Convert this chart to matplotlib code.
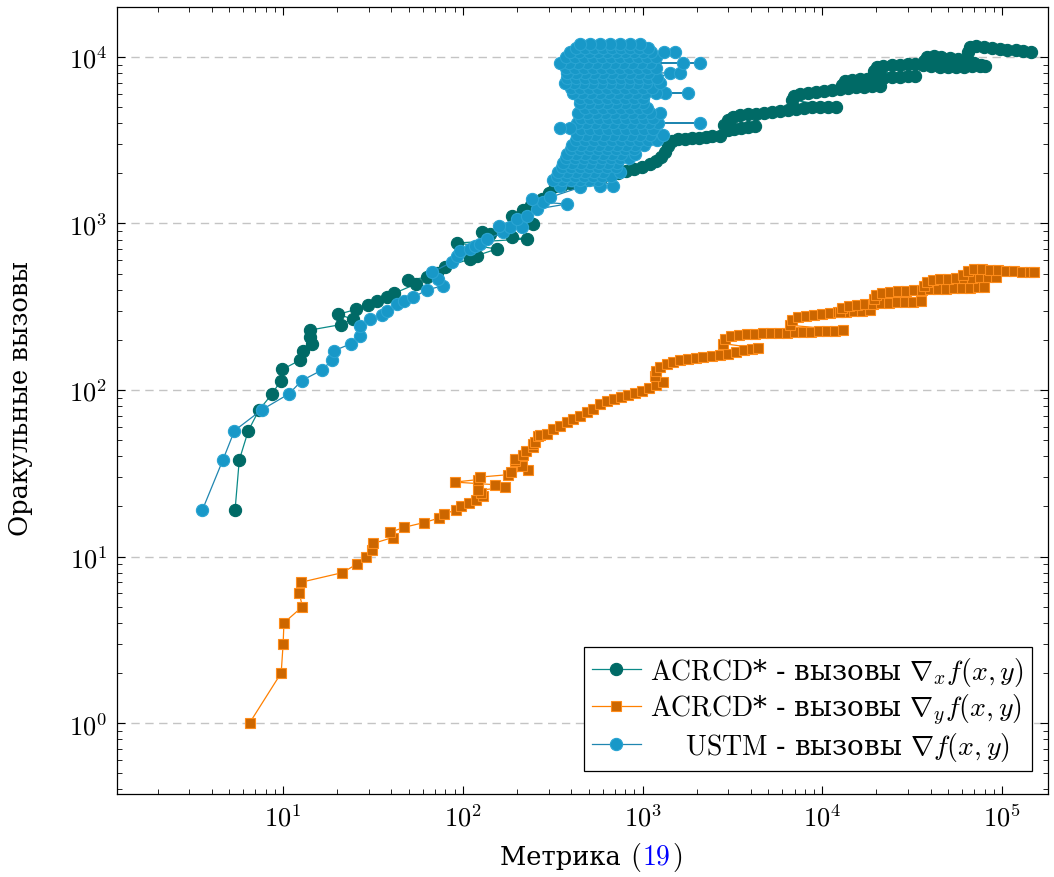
import matplotlib
matplotlib.use('Agg')
import matplotlib.pyplot as plt
from matplotlib.offsetbox import TextArea, HPacker, AnnotationBbox

plt.rcParams['font.family'] = ['cmr10', 'DejaVu Serif']
plt.rcParams['mathtext.fontset'] = 'cm'
plt.rcParams['axes.unicode_minus'] = False
plt.rcParams['axes.formatter.use_mathtext'] = True
CYR = 'DejaVu Serif'

# ACRCD* - calls of grad_x  (metric, oracle calls)
acx_x = [5.4, 5.7, 6.4, 7.35, 8.7, 9.7, 9.9, 12.4, 12.9, 14.5, 14.1, 14.1, 20.9, 24.4, 20.3, 25.5, 29.8, 33.4, 37.6, 41.6,
         54.7, 49.8, 63, 72, 79.6, 109.6, 119.4, 154.5, 93.2, 226, 187, 141.6, 127, 247, 187, 215, 240, 275, 300,
         326, 356, 395, 437, 484, 537, 594, 659, 730, 809, 896, 993, 1099, 1190, 1266,
         1333, 1384, 1459, 1575, 1721, 1880, 2050, 2240, 2440, 2694, 2990, 3240, 3540, 3860, 4217,
         2840, 2990, 3200, 3480, 3860, 4280, 4730, 5230, 5807, 6450, 7130, 7900, 8730, 9691, 10750, 11900,
         6800, 6960, 7502, 8300, 9200, 10200, 11300, 12520, 13870, 15380, 17030, 18900, 20890,
         12850, 13350, 14700, 16170, 17800, 19850, 21800, 24400, 26990, 29800, 32900,
         19350, 20100, 21800, 24400, 26990, 29800, 32900, 36200, 40000, 45030, 49900, 55200, 61200, 67800, 75140, 80110,
         36700, 38300, 41600, 46000, 51180, 56600, 62900, 69500, 76500,
         64600, 66110, 71300, 79000, 88000, 97070, 107000, 118800, 130900, 144400]
acx_y = [19, 38, 57, 76, 95, 114, 133, 151, 171, 189, 208, 229, 247, 266, 285, 305, 323, 341, 361, 381,
         433, 458, 475, 505, 546, 612, 641, 703, 764, 807, 826, 865, 893, 993, 1114, 1200, 1300, 1400, 1520,
         1680, 1702, 1750, 1775, 1824, 1850, 1901, 1953, 2010, 2066, 2125, 2186, 2275, 2373, 2506,
         2690, 2920, 3130, 3220, 3220, 3270, 3270, 3310, 3350, 3350, 3650, 3700, 3750, 3800, 3850,
         3910, 4190, 4365, 4490, 4550, 4550, 4610, 4680, 4740, 4810, 4870, 4940, 5010, 5010, 5010, 5010,
         5520, 5830, 6000, 6080, 6160, 6250, 6340, 6430, 6510, 6600, 6600, 6700, 6700,
         6790, 7180, 7280, 7380, 7380, 7480, 7480, 7580, 7580, 7690, 7690,
         8240, 8710, 8830, 8950, 8950, 9080, 9080, 8950, 8830, 8710, 8710, 8710, 8710, 8830, 8830, 8830,
         9460, 10000, 10140, 10000, 9860, 9726, 9460, 9200, 8950,
         10710, 11480, 11640, 11480, 11320, 11170, 11020, 11020, 10870, 10710]

# ACRCD* - calls of grad_y
acy_x = [6.5, 9.75, 10.0, 10.1, 12.8, 12.3, 12.5, 21.3, 25.7, 28.8, 31.4, 31.8, 40.6, 39.5, 47.3, 60.8, 73.4, 78.3,
         91, 98, 108, 119, 130, 126, 122, 172, 151, 90, 122, 124, 178, 185, 231, 213, 195, 195, 216, 225,
         246, 246, 252, 262, 270, 294, 318, 347, 380, 410, 449, 491, 530, 580, 634, 693, 758, 830, 907, 993,
         1086, 1186, 1297,
         1172, 1190, 1250, 1360, 1480, 1614, 1780, 1980, 2180, 2440, 2694, 2970, 3300, 3660, 4060, 4400,
         2800, 2872, 3120, 3440, 3800, 4217, 4670, 5170, 5730, 6350, 7037, 7800, 8630, 9570, 10600, 11740, 13000,
         6600, 6800, 7300, 8100, 9000, 9950, 11010, 12200, 13500, 14950, 16600, 18380,
         12520, 12850, 14050, 15600, 17240, 19100, 21160, 23440, 25960, 28770, 31880, 35300,
         19350, 19800, 21500, 23740, 26300, 29100, 32300, 35800, 39620, 43900, 48600, 53900, 59700, 66110, 73200, 79000,
         36700, 38000, 41000, 45030, 49900, 55200, 61200, 67800, 75140, 83200, 92200,
         60500, 64600, 69600, 77000, 85400, 94600, 104800, 116000, 128600, 142500, 150000]
acy_y = [1, 2, 3, 4, 5, 6, 7, 8, 9, 10, 11, 12, 13, 14, 15, 16, 17, 18,
         19, 20, 21, 22, 23, 24, 25, 26, 27, 28, 29, 30, 31, 32, 33, 35, 37.5, 38.5, 41, 43,
         45.5, 47.4, 49, 53, 54, 54.4, 58, 61, 64, 67, 70, 74, 77, 82, 86, 88, 91, 93, 96, 99,
         103, 107, 112,
         121, 130, 137, 143, 147, 151, 154, 156, 158, 160, 162, 165, 169, 173, 176, 178,
         190, 202, 211, 213, 217, 217, 220, 220, 220, 220, 223, 223, 223, 226, 226, 226, 229,
         245, 263, 274, 278, 282, 286, 290, 294, 294, 298, 298, 302,
         294, 311, 319, 324, 329, 329, 334, 334, 338, 338, 338, 343,
         352, 372, 382, 388, 393, 393, 398, 398, 404, 404, 404, 410, 410, 410, 416, 416,
         422, 445, 458, 464, 464, 471, 471, 471, 477, 477, 477,
         491, 519, 533, 533, 526, 526, 519, 519, 512, 512, 512]

# USTM - calls of grad: lower trail
ustm_x = [3.55, 4.62, 5.36, 7.6, 10.8, 12.7, 16.5, 18.6, 19.1, 24, 26.8, 26.8, 30.5, 35.4, 37.8,
          42.9, 46.8, 53.1, 63.3, 78, 73.1, 67.1, 86.7, 92.4, 96.4, 109.6, 117, 124.7, 135.8, 168,
          183, 213, 158, 200, 226, 258, 378, 280, 241, 306, 449, 347, 580, 687]
ustm_y = [19, 38, 57, 76, 95, 114, 132, 151, 172, 190, 210, 243, 266, 283, 299,
          329, 343, 361, 400, 423, 464, 509, 585, 641, 687, 703, 736, 753, 807, 885,
          948, 948, 970, 1064, 1114, 1220, 1309, 1340, 1400, 1437, 1648, 1680, 1686, 1686]

# USTM: the dense cloud, one oracle-call level per row
cloud_y = [1824, 1930, 2040, 2170, 2310, 2456, 2615, 2782, 2965, 3174, 3400, 3698, 4015, 3750,
           4304, 4610, 4940, 5300, 5675, 6080, 6510, 6980, 7480, 8015, 8590, 9200, 9930,
           10710, 11320, 11970]
cloud_x = [[565, 503, 449, 400, 357, 318],
           [334, 375, 421, 472, 530, 594, 667],
           [749, 601, 536, 478, 426, 380, 340],
           [356, 400, 449, 503, 565, 634, 711],
           [721, 642, 572, 510, 455, 404, 362],
           [375, 421, 472, 530, 594, 667, 749, 840],
           [907, 758, 675, 601, 536, 478, 426, 380],
           [400, 449, 503, 565, 634, 711, 798, 896],
           [1017, 907, 809, 721, 642, 572, 510, 455, 404],
           [426, 478, 537, 601, 675, 758, 851, 955, 1072, 1203],
           [1297, 1099, 967, 863, 769, 686, 610, 543, 484, 432],
           [455, 510, 572, 642, 721, 809, 907, 1018, 1142],
           [1219, 2085, 1086, 967, 863, 769, 686, 610, 543, 484, 432],
           [395, 347],
           [455, 510, 572, 642, 721, 809, 907, 1018, 1142],
           [1250, 1099, 980, 872, 778, 693, 618, 551, 491, 437],
           [478, 537, 601, 675, 758, 851, 955, 1058],
           [1002, 896, 798, 711, 634, 565, 503, 449],
           [449, 503, 565, 634, 711, 798, 896, 1004],
           [1333, 1190, 1795, 1031, 920, 820, 730, 651, 580, 516, 460, 410],
           [400, 449, 503, 565, 634, 711, 798, 896, 1004, 1127],
           [1250, 1045, 931, 830, 739, 659, 587, 523, 466, 415, 370],
           [380, 426, 478, 537, 601, 675, 758, 851, 955, 1072, 1203],
           [1420, 1614, 1072, 955, 851, 758, 675, 601, 536, 478, 426, 380],
           [375, 421, 472, 530, 594, 667, 749, 840, 943, 1058, 1190],
           [1099, 2085, 1680, 980, 872, 778, 693, 618, 551, 491, 437, 390, 347],
           [375, 421, 472, 530, 594, 667, 749, 840, 943, 1058, 1190],
           [1514, 1320, 1120, 1002, 890, 798, 710, 634, 565, 503, 442, 395],
           [426, 478, 537, 601, 675, 758, 851, 955, 1072],
           [967, 851, 749, 659, 580, 510, 449]]

for yv, row in zip(cloud_y, cloud_x):
    ustm_x = ustm_x + row
    ustm_y = ustm_y + [yv] * len(row)

labels = [r'$\mathrm{ACRCD}$* - вызовы $\nabla_x f(x, y)$',
          r'$\mathrm{ACRCD}$* - вызовы $\nabla_y f(x, y)$',
          r'    $\mathrm{USTM}$ - вызовы $\nabla f(x, y)$']

fig = plt.figure(figsize=(10.54, 8.78), dpi=100)
ax = fig.add_axes([0.111, 0.0945, 0.8833, 0.8964])
ax.set_xscale('log')
ax.set_yscale('log')

ax.plot(acx_x, acx_y, '-', color='#0a8a88', lw=0.9, marker='o', ms=8.8,
        mfc='#006a66', mec='#006a66', mew=0.8, label=labels[0])
ax.plot(acy_x, acy_y, '-', color='#ff8000', lw=0.9, marker='s', ms=7.8,
        mfc='#cc6600', mec='#ff8c1a', mew=0.8, label=labels[1])
ax.plot(ustm_x, ustm_y, '-', color='#1f86b0', lw=0.9, marker='o', ms=8.8,
        mfc='#1898c8', mec='#2aa4d2', mew=0.8, label=labels[2])

ax.set_xlim(1.19, 1.8e5)
ax.set_ylim(0.375, 1.995e4)

ax.set_axisbelow(True)
ax.yaxis.grid(True, which='major', linestyle=(0, (6, 4)), color='#c4c4c4', lw=1)
ax.tick_params(which='both', direction='in', top=True, right=True, labelsize=19)
ax.tick_params(which='major', length=6, width=0.8, pad=7)
ax.tick_params(which='minor', length=3.5, width=0.6)
for s in ax.spines.values():
    s.set_linewidth(0.9)

leg = ax.legend(loc='lower right', bbox_to_anchor=(0.983, 0.029),
                prop={'family': CYR, 'size': 20},
                frameon=True, fancybox=False, edgecolor='black', framealpha=1,
                borderpad=0.3, labelspacing=0.12, handlelength=1.75,
                handletextpad=0.35, borderaxespad=0)
leg.get_frame().set_linewidth(0.9)

# x label with blue reference number
parts = [TextArea('Метрика ', textprops=dict(size=18.5, family=CYR, color='black')),
         TextArea('(', textprops=dict(size=20, color='black')),
         TextArea('19', textprops=dict(size=20, color='#0000ff')),
         TextArea(')', textprops=dict(size=20, color='black'))]
box = HPacker(children=parts, align='baseline', pad=0, sep=1)
ab = AnnotationBbox(box, (0.51, -0.079), xycoords='axes fraction',
                    box_alignment=(0.5, 0.5), frameon=False)
ax.add_artist(ab)

fig.text(21 / 1054, 1 - 399 / 878, 'Оракульные вызовы', rotation=90,
         ha='center', va='center', fontsize=18.5, family=CYR)

fig.savefig('out.png', dpi=100)
